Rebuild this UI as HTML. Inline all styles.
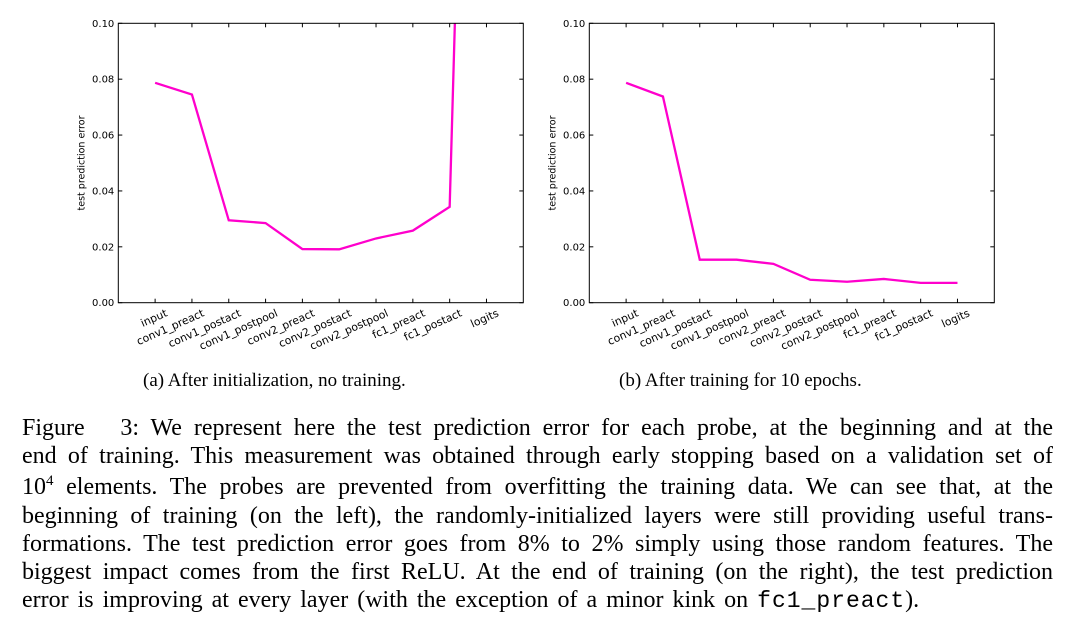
<!DOCTYPE html>
<html><head><meta charset="utf-8"><style>
body{margin:0;width:1077px;height:633px;background:#fff;overflow:hidden;position:relative;font-family:"Liberation Serif",serif;}
svg{position:absolute;left:0;top:0}
.sub{position:absolute;top:370px;font-size:19px;}
#cap{position:absolute;left:22px;top:414px;width:1031px;font-size:24px;line-height:28.2px;text-align:justify;color:#000}
#cap div{text-align-last:justify;white-space:nowrap}
#cap div.last{text-align-last:left;word-spacing:3px}
sup{font-size:15px;line-height:0;vertical-align:9px}
.mono{font-family:"Liberation Mono",monospace;font-size:23px;letter-spacing:1px}
</style></head><body>
<svg id="chart" width="1077" height="360"></svg>
<div class="sub" style="left:143px">(a) After initialization, no training.</div>
<div class="sub" style="left:619px">(b) After training for 10 epochs.</div>
<div id="cap">
<div>Figure&nbsp;&nbsp; 3: We represent here the test prediction error for each probe, at the beginning and at the</div>
<div>end of training. This measurement was obtained through early stopping based on a validation set of</div>
<div style="margin-top:3px">10<sup>4</sup> elements. The probes are prevented from overfitting the training data. We can see that, at the</div>
<div>beginning of training (on the left), the randomly-initialized layers were still providing useful trans-</div>
<div>formations. The test prediction error goes from 8% to 2% simply using those random features. The</div>
<div>biggest impact comes from the first ReLU. At the end of training (on the right), the test prediction</div>
<div class="last">error is improving at every layer (with the exception of a minor kink on <span class="mono">fc1_preact</span>).</div>
</div>
<script>
const categories=["input","conv1_preact","conv1_postact","conv1_postpool","conv2_preact","conv2_postact","conv2_postpool","fc1_preact","fc1_postact","logits"];
const seriesA=[0.0787,0.0745,0.0295,0.0285,0.0192,0.0191,0.0230,0.0258,0.0343,0.5,0.5];
const seriesB=[0.0787,0.0738,0.0154,0.0154,0.0139,0.0082,0.0075,0.0085,0.0071,0.0071];
const yTicks=[0.00,0.02,0.04,0.06,0.08,0.10];
const NS="http://www.w3.org/2000/svg";
const svg=document.getElementById('chart');
function mk(t,a,p){const e=document.createElementNS(NS,t);for(const k in a)e.setAttribute(k,a[k]);(p||svg).appendChild(e);return e;}
function panel(x0,vals,id){
  const x1=x0+405,y0=23.3,y1=302.7;
  const xs=i=>x0+(i+1)*(405/11);
  const ys=v=>y1-(v/0.1)*(y1-y0);
  const g=mk('g',{});
  
  
  const cp=mk('clipPath',{id:'cp'+id},g);
  mk('rect',{x:x0,y:y0,width:405,height:y1-y0},cp);
  const n=Math.min(vals.length,categories.length);
  let d='';for(let i=0;i<n;i++)d+=(i?'L':'M')+xs(i)+' '+ys(vals[i]);
  const pl=mk('path',{d:d,fill:'none',stroke:'#f0c','stroke-width':2.3,'stroke-linejoin':'miter','clip-path':'url(#cp'+id+')'},g);
  
  
  const fr=mk('rect',{x:x0,y:y0,width:405,height:y1-y0,fill:'none',stroke:'#000','stroke-width':1},g);
  
  
  yTicks.forEach(v=>{
    const y=ys(v);
    mk('line',{x1:x0,x2:x0+4,y1:y,y2:y,stroke:'#000'},g);
    mk('line',{x1:x1,x2:x1-4,y1:y,y2:y,stroke:'#000'},g);
    const t=mk('text',{x:x0-4,y:y+3.5,'text-anchor':'end','font-size':'10','font-family':'DejaVu Sans, sans-serif'},g);
    t.textContent=v.toFixed(2);
    
    
  });
  categories.forEach((c,i)=>{
    const x=xs(i);
    mk('line',{x1:x,x2:x,y1:y1,y2:y1-4,stroke:'#000'},g);
    mk('line',{x1:x,x2:x,y1:y0,y2:y0+4,stroke:'#000'},g);
    const t=mk('text',{x:x+13,y:y1+13,'text-anchor':'end','font-size':'10.8','font-family':'DejaVu Sans, sans-serif',transform:`rotate(-24 ${x+13} ${y1+13})`},g);
    t.textContent=c;
    
    
  });
  const yl=mk('text',{x:0,y:0,'text-anchor':'middle','font-size':'9.5','font-family':'DejaVu Sans, sans-serif',transform:`translate(${x0-34},${(y0+y1)/2}) rotate(-90)`},g);
  yl.textContent='test prediction error';
  
  
}
panel(118.3,seriesA,'a');
panel(589.3,seriesB,'b');
</script>
</body></html>
